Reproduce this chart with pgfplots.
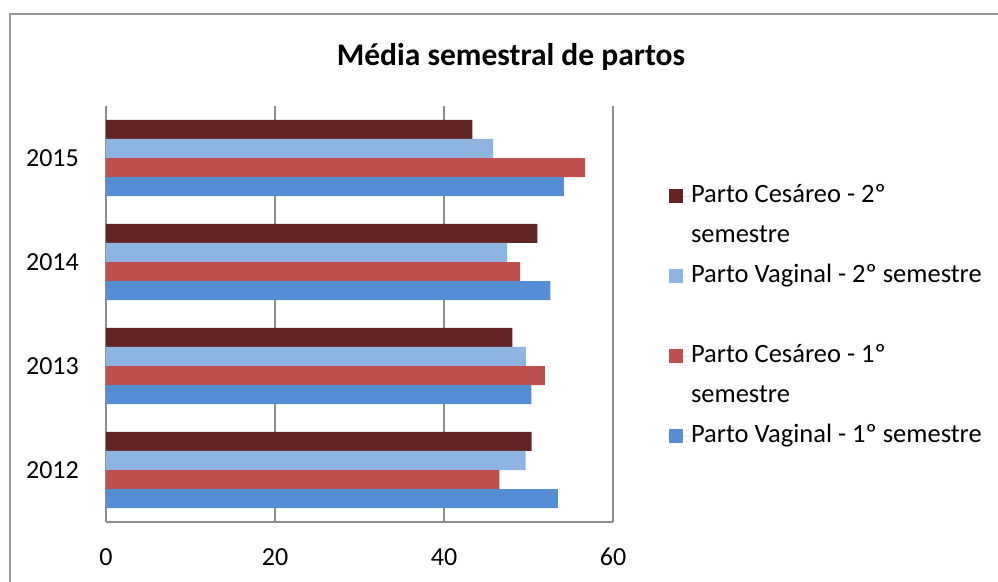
\documentclass[border=0pt]{standalone}
\usepackage{fontspec}
\setmainfont{Carlito}
\usepackage{pgfplots}
\pgfplotsset{compat=1.18}
\definecolor{cDR}{HTML}{632523}
\definecolor{cLB}{HTML}{8EB4E3}
\definecolor{cR}{HTML}{C0504D}
\definecolor{cB}{HTML}{558ED5}
\definecolor{gridgray}{HTML}{8C8C8C}
\pgfplotsset{sqlegend/.style={legend image code/.code={\fill[##1] (0pt,-7pt) rectangle (14pt,7pt); \path (0pt,0pt) -- (22pt,0pt);}}}
\begin{document}
\begin{tikzpicture}[x=1pt,y=1pt]
\useasboundingbox (-106,-59) rectangle (892,522);
\draw[gridgray!90, line width=2pt] (-96,-70) -- (-96,508) -- (900,508);
\begin{axis}[at={(0pt,0pt)}, anchor=south west, scale only axis,
  width=507pt, height=416pt,
  xmin=0, xmax=60, ymin=-0.5, ymax=3.5,
  xbar, bar width=0.183,
  xtick={0,20,40,60}, ytick={0,1,2,3}, yticklabels={2012,2013,2014,2015},
  major tick length=0pt,
  xmajorgrids, grid style={color=gridgray, line width=1.5pt},
  axis x line*=bottom, axis y line*=left,
  x axis line style={color=gridgray, line width=1.5pt, -},
  y axis line style={draw=none},
  tick label style={font=\fontsize{26}{31}\selectfont, inner sep=0pt},
  /pgf/number format/assume math mode=true,
  xticklabel style={anchor=base, yshift=-43.5pt},
  yticklabel style={anchor=east, xshift=-27pt},
  legend style={at={(1.1105,0.8113)}, anchor=north west, draw=none, fill=none,
    inner sep=0pt, outer sep=0pt, row sep=17pt,
    font=\fontsize{26.5}{32}\selectfont,
    nodes={inner sep=0pt, text height=18pt, text depth=5pt}},
  legend cell align=left,
]
\addplot[fill=cDR, draw=none, bar shift=0.2745, sqlegend] coordinates {(50.38,0) (48.08,1) (51.04,2) (43.35,3)};
\addlegendentry{Parto Cesáreo - 2º}
\addlegendimage{empty legend}
\addlegendentry{semestre}
\addplot[fill=cLB, draw=none, bar shift=0.0915, sqlegend] coordinates {(49.67,0) (49.70,1) (47.46,2) (45.80,3)};
\addlegendentry{Parto Vaginal - 2º semestre}
\addlegendimage{empty legend}
\addlegendentry{}
\addplot[fill=cR, draw=none, bar shift=-0.0915, sqlegend] coordinates {(46.54,0) (51.95,1) (49.00,2) (56.70,3)};
\addlegendentry{Parto Cesáreo - 1º}
\addlegendimage{empty legend}
\addlegendentry{semestre}
\addplot[fill=cB, draw=none, bar shift=-0.2745, sqlegend] coordinates {(53.49,0) (50.33,1) (52.58,2) (54.20,3)};
\addlegendentry{Parto Vaginal - 1º semestre}
\end{axis}
\node[font=\fontsize{31.5}{37}\selectfont\bfseries] at (405,465) {Média semestral de partos};
\end{tikzpicture}
\end{document}
